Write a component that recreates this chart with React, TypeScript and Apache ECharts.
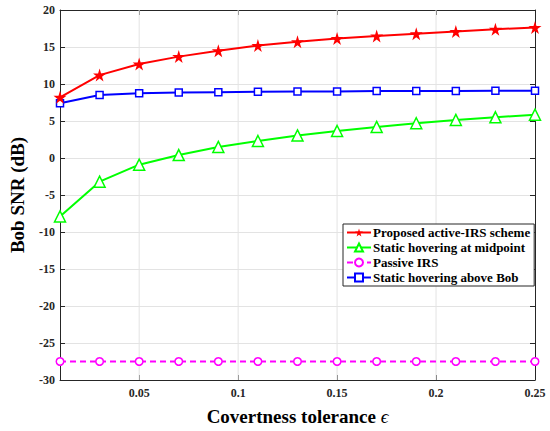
import React, { useEffect, useRef } from "react";
import * as echarts from "echarts";

const epsilon = [0.01, 0.03, 0.05, 0.07, 0.09, 0.11, 0.13, 0.15, 0.17, 0.19, 0.21, 0.23, 0.25];
const proposed = [8.2, 11.2, 12.7, 13.7, 14.5, 15.2, 15.7, 16.15, 16.5, 16.8, 17.1, 17.4, 17.65];
const midpoint = [-7.9, -3.2, -0.9, 0.4, 1.5, 2.3, 3.05, 3.65, 4.2, 4.7, 5.15, 5.5, 5.85];
const passive = [-27.5, -27.5, -27.5, -27.5, -27.5, -27.5, -27.5, -27.5, -27.5, -27.5, -27.5, -27.5, -27.5];
const aboveBob = [7.4, 8.5, 8.75, 8.85, 8.9, 8.95, 9.0, 9.0, 9.05, 9.05, 9.05, 9.1, 9.1];
const xTicks = [0.05, 0.1, 0.15, 0.2, 0.25];
const xGridLines = [0.05, 0.1, 0.15, 0.2];
const yRange = [-30, 20];
const seriesNames = [
  "Proposed active-IRS scheme",
  "Static hovering at midpoint",
  "Passive IRS",
  "Static hovering above Bob",
];

const STAR = "path://M50,0 L61,35 L98,35 L68,57 L79,91 L50,70 L21,91 L32,57 L2,35 L39,35 Z";
const FONT = "'Liberation Serif', 'Times New Roman', serif";

const pairs = (ys: number[]) => epsilon.map((x, i) => [x, ys[i]]);

export default function App() {
  const ref = useRef<HTMLDivElement>(null);
  useEffect(() => {
    if (!ref.current) return;
    const chart = echarts.init(ref.current, undefined, { renderer: "svg" });
    const axisLine = { show: true, onZero: false, lineStyle: { color: "#262626", width: 1 } };
    const tickStyle = { show: true, inside: true, length: 5, lineStyle: { color: "#262626" } };
    const labelStyle = { fontFamily: FONT, fontWeight: "bold", fontSize: 12, color: "#262626" };
    const gridSeries = xGridLines.map((x) => ({
      name: "grid-" + x,
      type: "line",
      data: [
        [x, yRange[0]],
        [x, yRange[1]],
      ],
      symbol: "none",
      silent: true,
      lineStyle: { color: "#e3e3e3", width: 1 },
      z: 1,
    }));
    chart.setOption({
      animation: false,
      backgroundColor: "#fff",
      textStyle: { fontFamily: FONT },
      grid: { left: 48, right: 15, top: 10, bottom: 45, containLabel: false },
      legend: {
        orient: "vertical",
        left: 343,
        top: 224,
        padding: [2, 4, 2, 3],
        itemGap: 2,
        itemWidth: 24,
        itemHeight: 10,
        backgroundColor: "#fff",
        borderColor: "#262626",
        borderWidth: 1,
        borderRadius: 0,
        textStyle: {
          fontFamily: FONT,
          fontWeight: "bold",
          fontSize: 13,
          lineHeight: 13,
          color: "#000",
          padding: [0, 0, 0, -3],
        },
        data: seriesNames,
      },
      xAxis: [
        {
          type: "value",
          min: 0.01,
          max: 0.25,
          name: "{t|Covertness tolerance }{e|ϵ}",
          nameLocation: "middle",
          nameGap: 27,
          nameTextStyle: {
            rich: {
              t: { fontFamily: FONT, fontWeight: "bold", fontSize: 19, color: "#000" },
              e: { fontFamily: FONT, fontStyle: "italic", fontSize: 19, color: "#000" },
            },
          },
          axisLine,
          axisTick: { ...tickStyle, customValues: xTicks },
          axisLabel: { ...labelStyle, customValues: xTicks, margin: 7 },
          splitLine: { show: false },
        },
        {
          type: "value",
          position: "top",
          min: 0.01,
          max: 0.25,
          axisLine,
          axisTick: { ...tickStyle, customValues: xTicks },
          axisLabel: { show: false, customValues: xTicks },
          splitLine: { show: false },
        },
      ],
      yAxis: [
        {
          type: "value",
          min: yRange[0],
          max: yRange[1],
          interval: 5,
          name: "Bob SNR (dB)",
          nameLocation: "middle",
          nameGap: 33,
          nameTextStyle: { fontFamily: FONT, fontWeight: "bold", fontSize: 19, color: "#000" },
          axisLine,
          axisTick: tickStyle,
          axisLabel: { ...labelStyle, margin: 5 },
          splitLine: { show: true, lineStyle: { color: "#e3e3e3" } },
        },
        {
          type: "value",
          position: "right",
          min: yRange[0],
          max: yRange[1],
          interval: 5,
          axisLine,
          axisTick: tickStyle,
          axisLabel: { show: false },
          splitLine: { show: false },
        },
      ],
      series: [
        ...gridSeries,
        {
          name: seriesNames[0],
          type: "line",
          data: pairs(proposed),
          symbol: STAR,
          symbolSize: 13,
          itemStyle: { color: "#ff0000" },
          lineStyle: { color: "#ff0000", width: 2 },
          z: 4,
        },
        {
          name: seriesNames[1],
          type: "line",
          data: pairs(midpoint),
          symbol: "triangle",
          symbolSize: 11,
          itemStyle: { color: "#fff", borderColor: "#00ff00", borderWidth: 1.5 },
          lineStyle: { color: "#00ff00", width: 2 },
          z: 3,
        },
        {
          name: seriesNames[2],
          type: "line",
          data: pairs(passive),
          symbol: "circle",
          symbolSize: 7.5,
          itemStyle: { color: "#fff", borderColor: "#ff00ff", borderWidth: 1.5 },
          lineStyle: { color: "#ff00ff", width: 2, type: [6, 4] },
          z: 3,
        },
        {
          name: seriesNames[3],
          type: "line",
          data: pairs(aboveBob),
          symbol: "rect",
          symbolSize: 7,
          itemStyle: { color: "#fff", borderColor: "#0000ff", borderWidth: 1.5 },
          lineStyle: { color: "#0000ff", width: 2 },
          z: 3,
        },
      ],
    });
    return () => chart.dispose();
  }, []);
  return (
    <div
      ref={ref}
      style={{ position: "absolute", left: 0, top: 0, width: 550, height: 431 }}
    />
  );
}
